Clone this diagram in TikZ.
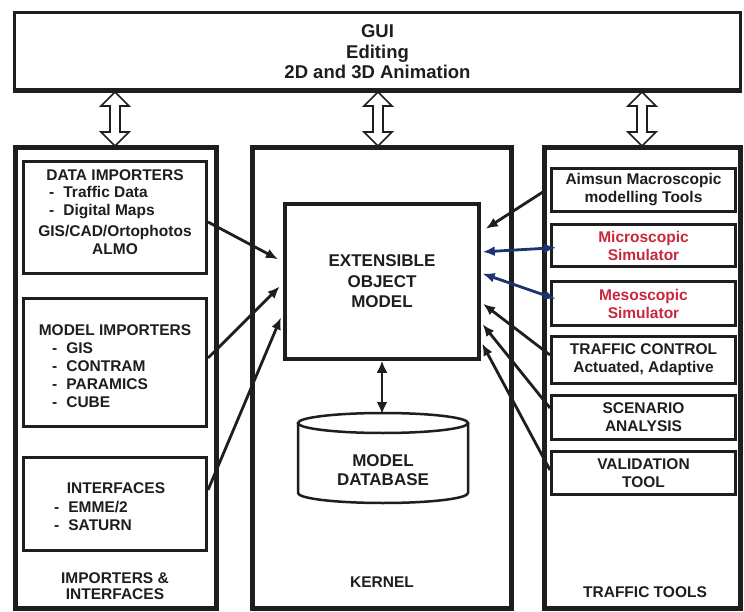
\documentclass[tikz,border=0pt]{standalone}
\usepackage{fontspec}
\setmainfont{Liberation Sans}
\usetikzlibrary{arrows.meta,calc}
\definecolor{ink}{HTML}{1E1E1E}
\definecolor{navy}{HTML}{1C3470}
\definecolor{redtxt}{HTML}{C8283C}
\tikzset{
  panel/.style={draw=ink, line width=5pt, inner sep=0pt},
  ibox/.style={draw=ink, line width=3pt, inner sep=0pt, align=center,
    font=\fontsize{15.5}{18}\selectfont\bfseries, text=ink},
  txt/.style={inner sep=0pt, align=center, font=\fontsize{15.5}{18}\selectfont\bfseries, text=ink},
  listtxt/.style={inner sep=0pt, align=left, anchor=west, font=\fontsize{15.5}{18}\selectfont\bfseries, text=ink},
  conn/.style={draw=ink, line width=2.8pt, -{Latex[length=12pt,width=10pt]}},
  bconn/.style={draw=navy, line width=2.8pt, {Latex[length=12pt,width=10pt]}-{Latex[length=12pt,width=10pt]}},
  dbconn/.style={draw=ink, line width=2.8pt, {Latex[length=12pt,width=11pt]}-{Latex[length=12pt,width=11pt]}},
  hollow/.style={draw=ink, line width=1.6pt, fill=white, line join=miter},
}
\newcommand{\dsh}[1]{-\hspace{9pt}#1}
\begin{document}
\begin{tikzpicture}[x=1pt,y=-1pt]
\useasboundingbox (0,0) rectangle (744,612);
\fill[white] (0,0) rectangle (744,612);

% GUI
\node[draw=ink, line width=3pt, inner sep=0pt, minimum width=726pt, minimum height=77pt] (gui) at (377.5,51) {};
\draw[ink, line width=5pt] (gui.south west) -- (gui.south east);
\node[inner sep=0pt, align=center, font=\fontsize{18.5}{20.5}\selectfont\bfseries, text=ink] (guitxt) at (377.5,52) {GUI\\Editing\\2D and 3D Animation};

% panels
\node[panel, minimum width=201pt, minimum height=460pt] (lp) at (115.5,378) {};
\node[panel, minimum width=259pt, minimum height=460pt] (kp) at (381.5,378) {};
\node[panel, minimum width=196pt, minimum height=460pt] (tp) at (642,378) {};

% hollow double arrows GUI <-> panels
\foreach \x in {115,378,642}{
  \draw[hollow] (\x,92) -- ++(14,14) -- ++(-9,0) -- ++(0,26) -- ++(9,0) -- ++(-14,14)
    -- ++(-14,-14) -- ++(9,0) -- ++(0,-26) -- ++(-9,0) -- cycle;
}

% left panel boxes
\node[ibox, minimum width=183pt, minimum height=112pt] (dimp) at (115,217.5) {};
\node[ibox, minimum width=183pt, minimum height=128pt] (mimp) at (115,362.5) {};
\node[ibox, minimum width=183pt, minimum height=93pt] (intf) at (115,504) {};

\node[txt] (dimpt) at (115,175) {DATA IMPORTERS};
\node[listtxt] (dimpl) at (49,203) {\dsh{Traffic Data}\\\dsh{Digital Maps}};
\node[txt] (dimpb) at (115,240) {GIS/CAD/Ortophotos\\ALMO};

\node[txt] (mimpt) at (115,330) {MODEL IMPORTERS};
\node[listtxt] (mimpl) at (52,375) {\dsh{GIS}\\\dsh{CONTRAM}\\\dsh{PARAMICS}\\\dsh{CUBE}};

\node[txt] (intft) at (116,488) {INTERFACES};
\node[listtxt] (intfl) at (54,516) {\dsh{EMME/2}\\\dsh{SATURN}};

\node[inner sep=0pt, align=center, font=\fontsize{15.5}{16.5}\selectfont\bfseries, text=ink] (lpt) at (115,586) {IMPORTERS \&\\INTERFACES};

% kernel
\node[draw=ink, line width=3.5pt, inner sep=0pt, minimum width=194pt, minimum height=155pt,
  align=center, font=\fontsize{17}{20.5}\selectfont\bfseries, text=ink] (eom) at (382,281.5) {EXTENSIBLE\\OBJECT\\MODEL};

\draw[ink, line width=2.5pt, fill=white] (298,423) -- (298,493) arc[start angle=180, end angle=360, x radius=85pt, y radius=10pt] -- (468,423);
\draw[ink, line width=2.5pt] (383,423) ellipse [x radius=85pt, y radius=10pt];
\coordinate (dbtop) at (382,414);
\node[inner sep=0pt, align=center, font=\fontsize{17}{19.5}\selectfont\bfseries, text=ink] (db) at (383,470) {MODEL\\DATABASE};
\draw[dbconn] (eom.south) -- (dbtop);

\node[txt] (kpt) at (382,582) {KERNEL};

% right panel boxes
\node[ibox, minimum width=184pt, minimum height=43pt] (aim) at (643.5,190) {Aimsun Macroscopic\\modelling Tools};
\node[ibox, minimum width=184pt, minimum height=42pt, text=redtxt] (micro) at (643.5,245.5) {Microscopic\\Simulator};
\node[ibox, minimum width=184pt, minimum height=44pt, text=redtxt] (meso) at (643.5,303.5) {Mesoscopic\\Simulator};
\node[ibox, minimum width=184pt, minimum height=47pt] (tc) at (643.5,360) {TRAFFIC CONTROL\\Actuated, Adaptive};
\node[ibox, minimum width=184pt, minimum height=44pt] (scen) at (643.5,417.5) {SCENARIO\\ANALYSIS};
\node[ibox, minimum width=184pt, minimum height=43pt] (val) at (643.5,473) {VALIDATION\\TOOL};

\node[txt] (tpt) at (645,592) {TRAFFIC TOOLS};

% connectors left -> EOM
\draw[conn, shorten >=6pt] ($(dimp.east)+(0,4.5)$) -- ($(eom.west)+(0,-19.5)$);
\draw[conn, shorten >=5pt] ($(mimp.east)+(0,-4.5)$) -- ($(eom.west)+(0,1.5)$);
\draw[conn, shorten >=6pt] ($(intf.east)+(0,-14)$) -- ($(eom.west)+(0,30.5)$);

% connectors right -> EOM
\draw[conn, shorten >=6pt] ($(aim.west)+(-4,0)$) -- ($(eom.east)+(0,-49.5)$);
\draw[bconn, shorten >=2pt, shorten <=-6pt] ($(micro.west)+(0,2.5)$) -- ($(eom.east)+(0,-29.5)$);
\draw[bconn, shorten >=2pt, shorten <=-6pt] ($(meso.west)+(0,-6.5)$) -- ($(eom.east)+(0,-8.5)$);
\draw[conn, shorten >=3pt] ($(tc.west)+(0,-5)$) -- ($(eom.east)+(0,20.5)$);
\draw[conn, shorten >=3pt] ($(scen.west)+(0,-9.5)$) -- ($(eom.east)+(0,40.5)$);
\draw[conn, shorten >=3pt] ($(val.west)+(0,-3)$) -- ($(eom.east)+(0,59.5)$);
\end{tikzpicture}
\end{document}
